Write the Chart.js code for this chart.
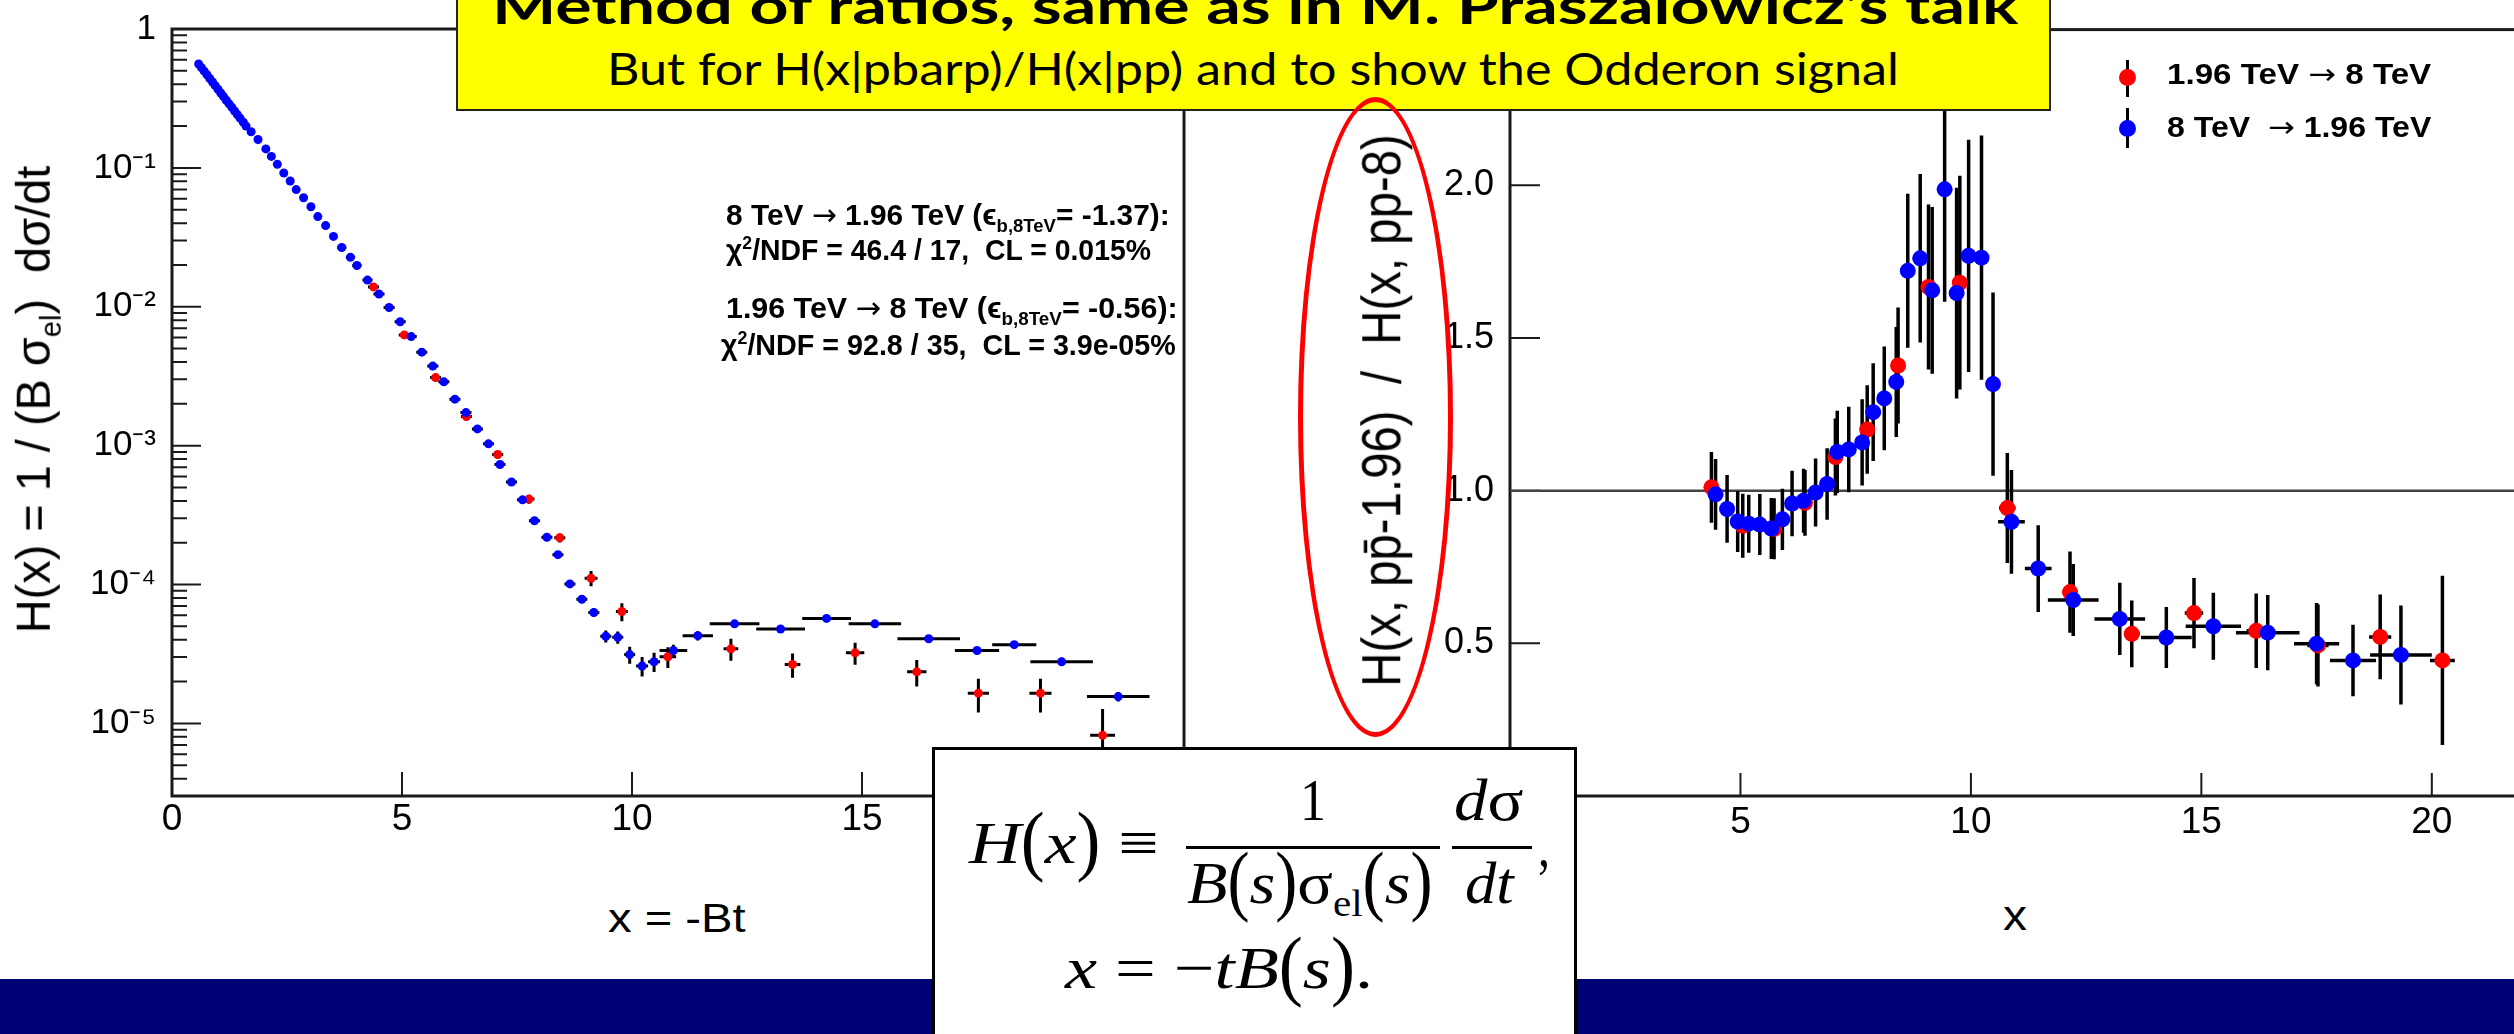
<!DOCTYPE html>
<html>
<head>
<meta charset="utf-8">
<title>Method of ratios - H(x) scaling</title>
<script src="https://cdn.jsdelivr.net/npm/chart.js@4.4.1/dist/chart.umd.min.js"></script>
<style>
  html, body { margin: 0; padding: 0; background: #fff; }
  body { position: relative; width: 2514px; height: 1034px; overflow: hidden; font-family: "Liberation Sans", Arial, sans-serif; color: #000; }
  canvas { position: absolute; top: 0; }
  #leftChart { left: 0; }
  #rightChart { left: 1300px; }
  .box { position: absolute; box-sizing: border-box; }
  .txt { position: absolute; left: 0; top: 0; white-space: pre; line-height: 1; }
  .txt sub, .txt sup { line-height: 0; font-size: 0.62em; }
  .arr { font-family: "DejaVu Sans", sans-serif; font-weight: normal; }
  .serif { font-family: "Liberation Serif", "Times New Roman", serif; }
  .tall { display: inline-block; transform: scaleY(1.3); transform-origin: 50% 65%; }
  #band { left: 0; top: 979px; width: 2514px; height: 60px; background: #000076; }
  #formula { left: 932px; top: 747px; width: 645px; height: 320px; background: #fff; border: 3px solid #000; }
  #banner { left: 456px; top: -50px; width: 1595px; height: 161px; background: #ffff00; border: 2px solid #222; }
  #ring { left: 1298px; top: 97px; width: 155px; height: 640px; border: 5px solid #ff0000; border-radius: 50%; }
  .fbar { position: absolute; height: 3px; background: #000; }
  .dot { position: absolute; width: 17px; height: 17px; border-radius: 50%; }
  .stick { position: absolute; width: 3px; background: #000; }
</style>
</head>
<body>
<canvas id="leftChart" width="1200" height="880"></canvas>
<canvas id="rightChart" width="1240" height="880"></canvas>

<!-- left plot annotations -->
<div class="txt" style="font: bold 30px 'Liberation Sans'" data-x="726" data-b="225" data-w="444">8 TeV <span class="arr">→</span> 1.96 TeV (ϵ<sub>b,8TeV</sub>= -1.37):</div>
<div class="txt" style="font: bold 30px 'Liberation Sans'" data-x="726" data-b="260" data-w="425">χ<sup>2</sup>/NDF = 46.4 / 17,  CL = 0.015%</div>
<div class="txt" style="font: bold 30px 'Liberation Sans'" data-x="726" data-b="318" data-w="452">1.96 TeV <span class="arr">→</span> 8 TeV (ϵ<sub>b,8TeV</sub>= -0.56):</div>
<div class="txt" style="font: bold 30px 'Liberation Sans'" data-x="721" data-b="355" data-w="455">χ<sup>2</sup>/NDF = 92.8 / 35,  CL = 3.9e-05%</div>

<!-- axis titles -->
<div class="txt" style="font: 48px 'Liberation Sans'" data-rot="1" data-bx="50" data-cy="399" data-len="468">H(x) = 1 / (B σ<sub>el</sub>)  dσ/dt</div>
<div class="txt" style="font: 40px 'Liberation Sans'" data-x="608" data-b="932" data-w="138">x = -Bt</div>
<div class="txt" style="font: 56px 'Liberation Sans'" data-rot="1" data-bx="1400" data-cy="410" data-len="553">H(x, pp̄-1.96)  /  H(x, pp-8)</div>
<div class="txt" style="font: 42px 'Liberation Sans'" data-x="2015" data-a="c" data-b="930" data-w="24">x</div>

<!-- right plot legend -->
<div class="stick" style="left: 2125.5px; top: 60px; height: 37px;"></div>
<div class="dot" style="left: 2118.5px; top: 68.5px; background: #ff0000;"></div>
<div class="stick" style="left: 2125.5px; top: 108px; height: 40px;"></div>
<div class="dot" style="left: 2118.5px; top: 119.5px; background: #0000ff;"></div>
<div class="txt" style="font: bold 29px 'Liberation Sans'" data-x="2167" data-b="84" data-w="264">1.96 TeV <span class="arr">→</span> 8 TeV</div>
<div class="txt" style="font: bold 29px 'Liberation Sans'" data-x="2167" data-b="137" data-w="264">8 TeV  <span class="arr">→</span> 1.96 TeV</div>

<div id="band" class="box"></div>

<!-- definition box -->
<div id="formula" class="box"></div>
<div class="txt serif" style="font-size: 60px" data-x="969" data-b="863" data-w="190"><i>H</i><span class="tall">(</span><i>x</i><span class="tall">)</span> ≡</div>
<div class="txt serif" style="font-size: 60px" data-x="1313" data-a="c" data-b="820" data-w="26">1</div>
<div class="fbar" style="left: 1186px; top: 846px; width: 254px;"></div>
<div class="txt serif" style="font-size: 60px" data-x="1187" data-b="903" data-w="246"><i>B</i><span class="tall">(</span><i>s</i><span class="tall">)</span>σ<sub>el</sub><span class="tall">(</span><i>s</i><span class="tall">)</span></div>
<div class="txt serif" style="font-size: 60px" data-x="1454" data-b="820" data-w="69"><i>d</i>σ</div>
<div class="fbar" style="left: 1452px; top: 846px; width: 80px;"></div>
<div class="txt serif" style="font-size: 60px" data-x="1465" data-b="903" data-w="49"><i>dt</i></div>
<div class="txt serif" style="font-size: 60px" data-x="1538" data-b="866" data-w="12">,</div>
<div class="txt serif" style="font-size: 60px" data-x="1065" data-b="988" data-w="308"><i>x</i> = −<i>tB</i><span class="tall">(</span><i>s</i><span class="tall">)</span>.</div>

<!-- yellow banner -->
<div id="banner" class="box"></div>
<div class="txt" style="font: bold 50px Lato" data-x="492" data-b="24" data-w="1527">Method of ratios, same as in M. Praszalowicz’s talk</div>
<div class="txt" style="font: 45px Lato" data-x="607" data-b="85" data-w="1292">But for H(x|pbarp)/H(x|pp) and to show the Odderon signal</div>

<div id="ring" class="box"></div>

<script>
// ---- left panel: H(x) vs x = -Bt (log scale) ----
// 8 TeV -> 1.96 TeV (blue)
const LEFT_BLUE_X = [
  0.58, 0.64, 0.70, 0.76, 0.82, 0.88, 0.94, 1.00, 1.06, 1.12, 1.18, 1.24, 1.30, 1.36, 1.42, 1.48,
  1.55, 1.61, 1.72, 1.87, 2.04, 2.16, 2.29, 2.43, 2.57, 2.70, 2.86, 3.02, 3.17, 3.34, 3.51,
  3.69, 3.88, 4.02, 4.25, 4.50, 4.72, 4.96, 5.20, 5.43, 5.67, 5.91, 6.15, 6.39, 6.64, 6.88,
  7.13, 7.38, 7.62, 7.88, 8.15, 8.39, 8.65, 8.91, 9.17, 9.43, 9.69, 9.95, 10.22, 10.48,
  10.90, 11.43, 12.23, 13.23, 14.23, 15.28, 16.45, 17.50, 18.31, 19.34, 20.57
];
const LEFT_BLUE_Y = [
  0.560, 0.527, 0.497, 0.468, 0.440, 0.415, 0.391, 0.368, 0.346, 0.326, 0.307, 0.289, 0.273, 0.257, 0.242, 0.228,
  0.213, 0.200, 0.182, 0.160, 0.137, 0.121, 0.106, 0.0918, 0.0805, 0.0698, 0.0609, 0.0525, 0.0446, 0.0384, 0.0321,
  0.0267, 0.0227, 0.0198, 0.01556, 0.01236, 0.00987, 0.0078, 0.0061, 0.00471, 0.00374, 0.00288, 0.00216, 0.00173, 0.00132, 0.00103,
  0.000731, 0.000547, 0.000407, 0.000288, 0.000219, 0.000164, 0.000101, 7.83e-5, 6.29e-5, 4.24e-5, 4.17e-5, 3.13e-5, 2.59e-5, 2.78e-5,
  3.35e-5, 4.28e-5, 5.21e-5, 4.78e-5, 5.70e-5, 5.21e-5, 4.07e-5, 3.35e-5, 3.69e-5, 2.78e-5, 1.56e-5
];
const LEFT_BLUE_EX = [
  0, 0, 0, 0, 0, 0, 0, 0, 0, 0, 0, 0, 0, 0, 0, 0,
  0, 0, 0, 0, 0, 0, 0, 0, 0, 0, 0, 0, 0, 0, 0,
  0.10, 0.10, 0.10, 0.11, 0.12, 0.12, 0.12, 0.12, 0.12, 0.12, 0.12, 0.12, 0.12, 0.12, 0.12,
  0.12, 0.12, 0.12, 0.12, 0.12, 0.12, 0.12, 0.12, 0.12, 0.12, 0.12, 0.12, 0.13, 0.13,
  0.30, 0.33, 0.54, 0.53, 0.53, 0.57, 0.68, 0.48, 0.48, 0.68, 0.68
];
const LEFT_BLUE_EY = [
  0, 0, 0, 0, 0, 0, 0, 0, 0, 0, 0, 0, 0, 0, 0, 0,
  0, 0, 0, 0, 0, 0, 0, 0, 0, 0, 0, 0, 0, 0, 0,
  8e-4, 7e-4, 6e-4, 5e-4, 4e-4, 3e-4, 2.4e-4, 1.8e-4, 1.4e-4, 1.1e-4, 9e-5, 7e-5, 5e-5, 4e-5, 3e-5,
  2.2e-5, 1.6e-5, 1.3e-5, 9e-6, 7e-6, 6.5e-6, 5e-6, 4.7e-6, 4.4e-6, 4.2e-6, 4.2e-6, 4.4e-6, 4.1e-6, 4.4e-6,
  3.4e-6, 3.3e-6, 2.6e-6, 2.4e-6, 2.9e-6, 2.6e-6, 2.4e-6, 2e-6, 2.2e-6, 1.9e-6, 1.2e-6
];
// 1.96 TeV -> 8 TeV (red)
const LEFT_RED_X = [4.38, 5.05, 5.73, 6.40, 7.08, 7.76, 8.43, 9.11, 9.78, 10.78, 12.15, 13.49, 14.85, 16.19, 17.53, 18.88, 20.23];
const LEFT_RED_Y = [0.0139, 0.00627, 0.00309, 0.00162, 0.000863, 0.000412, 0.000217, 0.000111, 6.39e-5, 3.02e-5, 3.44e-5, 2.66e-5, 3.22e-5, 2.35e-5, 1.65e-5, 1.65e-5, 8.2e-6];
const LEFT_RED_EX = [0.12, 0.12, 0.12, 0.12, 0.12, 0.12, 0.12, 0.14, 0.13, 0.18, 0.16, 0.17, 0.20, 0.21, 0.23, 0.24, 0.27];
const LEFT_RED_EY = [7e-4, 3.5e-4, 1.8e-4, 1e-4, 5.5e-5, 3e-5, 1.6e-5, 1.4e-5, 9.5e-6, 5.1e-6, 6.2e-6, 5.3e-6, 5.8e-6, 5.1e-6, 4.5e-6, 4.5e-6, 4.5e-6];

const LEFT_X_TICKS = [0, 5, 10, 15, 20];
const LEFT_Y_TICKS = [1e-5, 1e-4, 1e-3, 1e-2, 1e-1, 1];
const LEFT_Y_LABELS = ["10⁻⁵", "10⁻⁴", "10⁻³", "10⁻²", "10⁻¹", "1"];

// ---- right panel: ratio H(x, ppbar-1.96) / H(x, pp-8) ----
const RIGHT_BLUE_X = [
  4.46, 4.71, 4.94, 5.18, 5.42, 5.67, 5.91, 6.12, 6.37, 6.63, 6.88, 7.10, 7.35, 7.64, 7.88, 8.12, 8.38,
  8.63, 8.90, 9.16, 9.43, 9.69, 9.95, 10.23, 10.48,
  10.88, 11.46, 12.22, 13.23, 14.24, 15.26, 16.44, 17.50, 18.29, 19.33
];
const RIGHT_BLUE_Y = [
  0.988, 0.940, 0.899, 0.892, 0.889, 0.876, 0.906, 0.958, 0.967, 0.994, 1.022, 1.127, 1.135, 1.158, 1.257, 1.302, 1.356,
  1.720, 1.761, 1.656, 1.987, 1.647, 1.769, 1.763, 1.349,
  0.898, 0.745, 0.642, 0.580, 0.519, 0.556, 0.535, 0.499, 0.444, 0.462
];
const RIGHT_BLUE_EX = [
  0.12, 0.12, 0.12, 0.12, 0.12, 0.12, 0.12, 0.12, 0.12, 0.12, 0.12, 0.12, 0.12, 0.12, 0.12, 0.12, 0.12,
  0.12, 0.12, 0.12, 0.12, 0.12, 0.12, 0.12, 0.12,
  0.29, 0.29, 0.55, 0.55, 0.55, 0.60, 0.69, 0.49, 0.50, 0.67
];
const RIGHT_BLUE_EY = [
  0.116, 0.111, 0.100, 0.095, 0.100, 0.100, 0.100, 0.107, 0.105, 0.111, 0.117, 0.135, 0.140, 0.141, 0.160, 0.170, 0.180,
  0.252, 0.276, 0.273, 0.368, 0.345, 0.380, 0.400, 0.300,
  0.170, 0.142, 0.118, 0.118, 0.100, 0.110, 0.123, 0.133, 0.117, 0.162
];
const RIGHT_RED_X = [4.37, 5.05, 5.73, 6.40, 7.06, 7.75, 8.42, 9.08, 9.76, 10.79, 12.15, 13.49, 14.84, 16.19, 17.53, 18.88, 20.23];
const RIGHT_RED_Y = [1.011, 0.885, 0.875, 0.960, 1.110, 1.200, 1.410, 1.667, 1.681, 0.943, 0.668, 0.531, 0.599, 0.541, 0.493, 0.521, 0.444];
const RIGHT_RED_EX = [0.12, 0.12, 0.12, 0.12, 0.12, 0.12, 0.12, 0.14, 0.13, 0.18, 0.16, 0.17, 0.20, 0.21, 0.23, 0.24, 0.27];
const RIGHT_RED_EY = [0.116, 0.105, 0.100, 0.108, 0.126, 0.145, 0.190, 0.270, 0.350, 0.180, 0.133, 0.109, 0.115, 0.122, 0.134, 0.139, 0.277];

const RIGHT_X_TICKS = [5, 10, 15, 20];
const RIGHT_Y_TICKS = [0.5, 1.0, 1.5, 2.0];
const RIGHT_Y_LABELS = ["0.5", "1.0", "1.5", "2.0"];

const SANS = '"Liberation Sans", Arial, sans-serif';

//Zip the column arrays into points that also carry their errors
function toPoints(xs, ys, exs, eys) {
  return xs.map((x, i) => ({ x, y: ys[i], ex: exs[i], ey: eys[i] }));
}

//ROOT-like frame with ticks pointing into the plot
const rootFrame = {
  id: "rootFrame",
  beforeDatasetsDraw(chart, args, opts) {
    const { ctx, chartArea: a, scales } = chart;
    const x = scales.x, y = scales.y;
    ctx.save();
    ctx.strokeStyle = "#1a1a1a";
    ctx.lineWidth = 3;
    ctx.strokeRect(a.left, a.top, a.right - a.left, a.bottom - a.top);

    ctx.lineWidth = 2;
    ctx.beginPath();
    x.ticks.forEach((t) => {
      const px = x.getPixelForValue(t.value);
      ctx.moveTo(px, a.bottom);
      ctx.lineTo(px, a.bottom - opts.xTickLen);
    });
    y.ticks.forEach((t) => {
      const py = y.getPixelForValue(t.value);
      ctx.moveTo(a.left, py);
      ctx.lineTo(a.left + opts.yTickLen, py);
    });
    if (opts.logMinor) {
      // minor ticks at 2..9 x 10^k
      for (let k = -6; k < 0; k++) {
        for (let m = 2; m <= 9; m++) {
          const v = m * Math.pow(10, k);
          if (v < y.min || v > y.max) continue;
          const py = y.getPixelForValue(v);
          ctx.moveTo(a.left, py);
          ctx.lineTo(a.left + opts.yMinorLen, py);
        }
      }
    }
    ctx.stroke();

    if (opts.refLine != null) {
      const py = y.getPixelForValue(opts.refLine);
      ctx.strokeStyle = "#444";
      ctx.lineWidth = 2.5;
      ctx.beginPath();
      ctx.moveTo(a.left, py);
      ctx.lineTo(a.right, py);
      ctx.stroke();
    }
    ctx.restore();
  },
};

//Black x/y error bars under the markers
const errorBars = {
  id: "errorBars",
  beforeDatasetsDraw(chart, args, opts) {
    const { ctx, chartArea: a, scales } = chart;
    const x = scales.x, y = scales.y;
    ctx.save();
    ctx.beginPath();
    ctx.rect(a.left, a.top, a.right - a.left, a.bottom - a.top);
    ctx.clip();
    ctx.strokeStyle = "#000";
    ctx.lineWidth = opts.width;
    for (let d = chart.data.datasets.length - 1; d >= 0; d--) {
      chart.data.datasets[d].data.forEach((p) => {
        const px = x.getPixelForValue(p.x);
        const py = y.getPixelForValue(p.y);
        ctx.beginPath();
        if (p.ex > 0) {
          ctx.moveTo(x.getPixelForValue(p.x - p.ex), py);
          ctx.lineTo(x.getPixelForValue(p.x + p.ex), py);
        }
        if (p.ey > 0) {
          ctx.moveTo(px, y.getPixelForValue(p.y + p.ey));
          ctx.lineTo(px, y.getPixelForValue(p.y - p.ey));
        }
        ctx.stroke();
      });
    }
    ctx.restore();
  },
};

//Shared options for both panels
function panelOptions(o) {
  return {
    responsive: false,
    animation: false,
    devicePixelRatio: 1,
    layout: { padding: { left: 0, top: o.top, right: 16, bottom: 0 } },
    plugins: {
      legend: { display: false },
      tooltip: { enabled: false },
      rootFrame: o.frame,
      errorBars: { width: o.barWidth },
    },
    scales: {
      x: {
        type: "linear",
        min: o.xMin,
        max: o.xMax,
        grid: { display: false },
        border: { display: false },
        afterBuildTicks: (s) => { s.ticks = o.xTicks.map((v) => ({ value: v })); },
        afterFit: (s) => { s.height = 84; },
        ticks: {
          autoSkip: false,
          maxRotation: 0,
          padding: o.xPad,
          color: "#000",
          font: { family: SANS, size: 37 },
          callback: (v) => String(v),
        },
      },
      y: {
        type: o.yType,
        min: o.yMin,
        max: o.yMax,
        grid: { display: false },
        border: { display: false },
        afterBuildTicks: (s) => { s.ticks = o.yTicks.map((v) => ({ value: v })); },
        afterFit: (s) => { s.width = o.yWidth; },
        ticks: {
          autoSkip: false,
          padding: 8,
          color: "#000",
          font: { family: SANS, size: o.yFont },
          callback: (v) => o.yLabels[o.yTicks.indexOf(v)],
        },
      },
    },
  };
}

new Chart(document.getElementById("leftChart"), {
  type: "scatter",
  data: {
    datasets: [
      {
        label: "8 TeV → 1.96 TeV",
        data: toPoints(LEFT_BLUE_X, LEFT_BLUE_Y, LEFT_BLUE_EX, LEFT_BLUE_EY),
        pointRadius: 4.5,
        pointBorderWidth: 0,
        backgroundColor: "#0000ff",
      },
      {
        label: "1.96 TeV → 8 TeV",
        data: toPoints(LEFT_RED_X, LEFT_RED_Y, LEFT_RED_EX, LEFT_RED_EY),
        pointRadius: 4.5,
        pointBorderWidth: 0,
        backgroundColor: "#ff0000",
      },
    ],
  },
  options: panelOptions({
    top: 21, xMin: 0, xMax: 22, xTicks: LEFT_X_TICKS, xPad: -6,
    yType: "logarithmic", yMin: 3e-6, yMax: 1, yTicks: LEFT_Y_TICKS, yLabels: LEFT_Y_LABELS,
    yWidth: 172, yFont: 35, barWidth: 3,
    frame: { xTickLen: 24, yTickLen: 29, yMinorLen: 15, logMinor: true, refLine: null },
  }),
  plugins: [rootFrame, errorBars],
});

new Chart(document.getElementById("rightChart"), {
  type: "scatter",
  data: {
    datasets: [
      {
        label: "8 TeV → 1.96 TeV",
        data: toPoints(RIGHT_BLUE_X, RIGHT_BLUE_Y, RIGHT_BLUE_EX, RIGHT_BLUE_EY),
        pointRadius: 8,
        pointBorderWidth: 0,
        backgroundColor: "#0000ff",
      },
      {
        label: "1.96 TeV → 8 TeV",
        data: toPoints(RIGHT_RED_X, RIGHT_RED_Y, RIGHT_RED_EX, RIGHT_RED_EY),
        pointRadius: 8,
        pointBorderWidth: 0,
        backgroundColor: "#ff0000",
      },
    ],
  },
  options: panelOptions({
    top: 22, xMin: 0, xMax: 22, xTicks: RIGHT_X_TICKS, xPad: -3,
    yType: "linear", yMin: 0, yMax: 2.51, yTicks: RIGHT_Y_TICKS, yLabels: RIGHT_Y_LABELS,
    yWidth: 210, yFont: 36, barWidth: 3.5,
    frame: { xTickLen: 23, yTickLen: 30, yMinorLen: 0, logMinor: false, refLine: 1.0 },
  }),
  plugins: [rootFrame, errorBars],
});

//Place html text by baseline and squeeze it to the measured width
function layoutText(el) {
  const probe = document.createElement("span");
  probe.style.cssText = "display:inline-block;width:0;height:0;vertical-align:baseline";
  el.appendChild(probe);
  const base = probe.offsetTop;
  const w = el.offsetWidth;
  const h = el.offsetHeight;
  const d = el.dataset;
  if (d.rot) {
    const cx = +d.bx - base + h / 2;
    el.style.left = (cx - w / 2) + "px";
    el.style.top = (+d.cy - h / 2) + "px";
    el.style.transformOrigin = "center center";
    el.style.transform = "rotate(-90deg) scaleX(" + (+d.len / w) + ")";
  } else {
    const left = d.a === "c" ? +d.x - +d.w / 2 : +d.x;
    el.style.left = left + "px";
    el.style.top = (+d.b - base) + "px";
    el.style.transformOrigin = "left center";
    el.style.transform = "scaleX(" + (+d.w / w) + ")";
  }
}

document.fonts.ready.then(() => {
  document.querySelectorAll(".txt").forEach(layoutText);
});
</script>
</body>
</html>
